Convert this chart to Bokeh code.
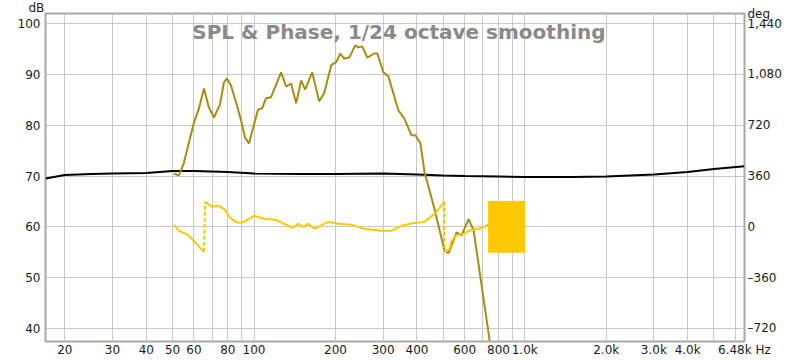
from bokeh.plotting import figure
from bokeh.models import Range1d, LinearAxis, FixedTicker, Label, Title
from bokeh.embed import file_html
from bokeh.resources import INLINE

# ---------------- data ----------------
# x axis (Hz) labelled ticks and grid lines
freq_ticks = [20, 30, 40, 50, 60, 80, 100, 200, 300, 400, 600, 800, 1000, 2000, 3000, 4000, 6480]
freq_labels = ["20", "30", "40", "50", "60", "80", "100", "200", "300", "400", "600", "800",
               "1.0k", "2.0k", "3.0k", "4.0k", "6.48k Hz"]
freq_grid = [20, 30, 40, 50, 60, 70, 80, 90, 100, 200, 300, 400, 500, 600, 700, 800, 900,
             1000, 2000, 3000, 4000, 5000, 6000]
db_ticks = [40, 50, 60, 70, 80, 90, 100]
deg_ticks = [-720, -360, 0, 360, 720, 1080, 1440]
deg_labels = ["\u2013720", "\u2013360", "0", "360", "720", "1,080", "1,440"]

# black reference curve (dB)
ref_freq = [17, 20, 25, 30, 40, 50, 60, 80, 100, 150, 200, 300, 400, 500, 600, 800, 1000,
            1500, 2000, 3000, 4000, 5000, 6480]
ref_db = [69.5, 70.2, 70.4, 70.5, 70.6, 71.0, 71.0, 70.8, 70.5, 70.4, 70.4, 70.5, 70.3, 70.1,
          70.0, 69.9, 69.8, 69.8, 69.9, 70.3, 70.8, 71.4, 71.9]

# SPL curve (dB)
spl_freq = [50.5, 52.8, 55.0, 59.9, 62.6, 65.3, 68.1, 71.1, 74.8, 77.4, 79.4, 82.2, 85.8, 89.5,
            92.6, 95.8, 103.5, 107.1, 110.8, 115.6, 125.9, 131.4, 137.1, 143.1, 149.3, 154.5,
            164.0, 174.0, 181.6, 192.9, 201.2, 208.3, 215.4, 224.8, 236.6, 242.7, 251.2, 262.1,
            278.3, 285.5, 300.4, 313.5, 341.5, 359.4, 381.6, 394.9, 411.9, 426.2, 444.8, 464.2,
            505.6, 523.1, 560.1, 584.4, 620.4, 647.4, 742.1]
spl_db = [70.5, 70.1, 72.5, 80.4, 83.3, 87.2, 83.5, 81.5, 84.0, 88.4, 89.2, 87.8, 84.5, 81.0,
          77.6, 76.4, 83.1, 83.3, 85.3, 85.5, 90.4, 87.6, 88.2, 84.3, 88.8, 87.0,
          90.4, 84.7, 86.3, 91.8, 92.4, 94.1, 93.1, 93.3, 95.7, 95.3, 95.5, 93.3,
          94.1, 94.1, 90.4, 89.6, 82.9, 81.3, 78.0, 78.0, 76.4, 70.8, 67.2, 63.5,
          55.3, 54.8, 58.9, 58.3, 61.5, 59.3, 37.6]

# phase curve (deg), three unwrapped pieces
phase1_freq = [50.6, 52.8, 56.9, 59.9, 65.3]
phase1_deg = [14, -28, -57, -99, -177]
phase2_freq = [66.0, 69.9, 73.6, 77.4, 82.2, 87.2, 91.8, 100.0, 108.9, 120.7, 129.2, 139.5,
               145.5, 151.9, 158.5, 166.8, 188.0, 204.7, 228.7, 255.6, 295.4, 321.8, 350.4,
               391.5, 426.2, 464.2, 505.6]
phase2_deg = [177, 142, 149, 128, 57, 28, 35, 78, 57, 50, 21, -7,
              21, 0, 21, -14, 35, 21, 14, -14, -28, -28, 7,
              28, 35, 92, 177]
phase3_freq = [505.6, 527.6, 536.7, 560.1, 594.5, 620.4, 675.7, 711.2, 735.6]
phase3_deg = [-180, -156, -99, -60, -50, -28, -14, 0, 21]
# rapidly wrapping phase region
wrap_band_freq = [735.6, 1000]
wrap_band_deg = [-180, 180]

# ---------------- figure ----------------
X0, X1 = 16.97, 6485
Y0, Y1 = 37.44, 101.97
P0, P1 = (Y0 - 60) * 36, (Y1 - 60) * 36

p = figure(width=800, height=360, x_axis_type="log",
           x_range=Range1d(X0, X1), y_range=Range1d(Y0, Y1),
           output_backend="svg", toolbar_location=None,
           min_border_left=45, min_border_right=56, min_border_top=13, min_border_bottom=19,
           background_fill_color="white", border_fill_color="white")
p.extra_y_ranges = {"phase": Range1d(P0, P1)}

font = "DejaVu Sans"
txt_col = "#1a1a1a"

def style_axis(ax, standoff):
    ax.axis_line_color = None
    ax.major_tick_line_color = None
    ax.minor_tick_line_color = None
    ax.major_tick_out = 0
    ax.major_tick_in = 0
    ax.minor_tick_out = 0
    ax.major_label_text_font = font
    ax.major_label_text_font_size = "12px"
    ax.major_label_text_color = txt_col
    ax.major_label_standoff = standoff

xa = p.xaxis[0]
xa.ticker = FixedTicker(ticks=freq_ticks)
xa.major_label_overrides = {t: l for t, l in zip(freq_ticks, freq_labels)}
style_axis(xa, 1)

ya = p.yaxis[0]
ya.ticker = FixedTicker(ticks=db_ticks)
style_axis(ya, 5)

# right (phase) axis; its unit name "deg" sits at the top end of the axis
deg_unit_pos = P1 - 1
ra = LinearAxis(y_range_name="phase", ticker=FixedTicker(ticks=deg_ticks + [deg_unit_pos]))
overrides = {t: l for t, l in zip(deg_ticks, deg_labels)}
overrides[deg_unit_pos] = "deg"
ra.major_label_overrides = overrides
style_axis(ra, 3)
p.add_layout(ra, "right")

p.xgrid.ticker = FixedTicker(ticks=freq_grid)
p.xgrid.grid_line_color = "#c8c8c8"
p.ygrid.grid_line_color = "#c8c8c8"
p.xgrid.minor_grid_line_color = None
p.ygrid.minor_grid_line_color = None

p.outline_line_color = "#a8a8a8"
p.outline_line_width = 2

# ---------------- glyphs ----------------
p.line(ref_freq, ref_db, line_color="black", line_width=2)
p.line(spl_freq, spl_db, line_color="#a88d10", line_width=2)

yellow = "#ffc800"
p.multi_line(xs=[phase1_freq, phase2_freq, phase3_freq],
             ys=[phase1_deg, phase2_deg, phase3_deg],
             line_color=yellow, line_width=2, y_range_name="phase")
p.segment(x0=[phase1_freq[-1], phase2_freq[-1]], y0=[phase1_deg[-1], phase2_deg[-1]],
          x1=[phase2_freq[0], phase3_freq[0]], y1=[phase2_deg[0], phase3_deg[0]],
          line_color=yellow, line_width=2, line_dash="4 2", y_range_name="phase")
p.quad(left=[wrap_band_freq[0]], right=[wrap_band_freq[1]],
       bottom=[wrap_band_deg[0]], top=[wrap_band_deg[1]],
       fill_color=yellow, line_color=yellow, y_range_name="phase")

# ---------------- texts ----------------
p.add_layout(Label(x=343, y=98.3, text="SPL & Phase, 1/24 octave smoothing",
                   text_align="center", text_baseline="alphabetic",
                   text_font=font, text_font_size="20px", text_font_style="bold",
                   text_color="#8a8a8a"))
# left unit name "dB" above the left axis
p.add_layout(Title(text="dB", align="left", offset=-17, standoff=-3,
                   text_font=font, text_font_size="12px", text_font_style="normal",
                   text_color=txt_col), "above")

open("out.html", "w").write(file_html(p, INLINE))
